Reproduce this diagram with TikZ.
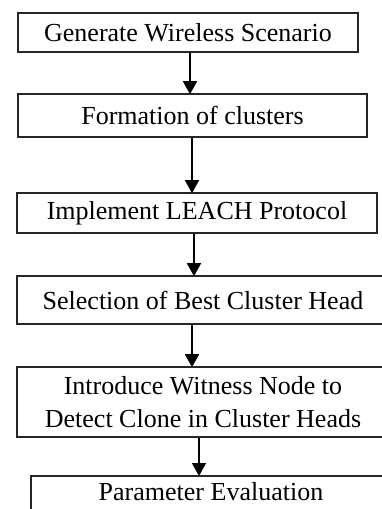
\documentclass[tikz,border=0pt]{standalone}
\usepackage{fontspec}
\setmainfont{Liberation Serif}
\usetikzlibrary{arrows.meta}
\begin{document}
\begin{tikzpicture}[x=1pt,y=-1pt,
  stepbox/.style={draw=black!85, line width=1.6pt, inner sep=0pt, align=center,
    font=\fontsize{26}{33}\selectfont},
  arr/.style={line width=1.6pt, draw=black, -{Triangle[length=13pt,width=14pt]}, shorten >=-1pt}]
\useasboundingbox (0,0) rectangle (382,509);
\clip (0,0) rectangle (382,509);
\fill[white] (0,0) rectangle (382,509);
\node[stepbox, minimum width=340pt, minimum height=39pt] (b1) at (188,32.5) {Generate Wireless Scenario};
\node[stepbox, minimum width=349pt, minimum height=43pt] (b2) at (192.5,115.5) {Formation of clusters};
\node[stepbox, minimum width=360pt, minimum height=40pt] (b3) at (197,213) {Implement LEACH Protocol};
\node[stepbox, minimum width=372pt, minimum height=48pt] (b4) at (203,300) {Selection of Best Cluster Head};
\node[stepbox, minimum width=372pt, minimum height=70pt] (b5) at (203,402) {Introduce Witness Node to\\Detect Clone in Cluster Heads};
\node[stepbox, minimum width=362pt, minimum height=46pt, anchor=north west] (b6) at (30,475) {};
\node[font=\fontsize{26}{33}\selectfont, anchor=base] (t6) at (211,500) {Parameter Evaluation};
\coordinate (x1) at (190,0);
\coordinate (x2) at (192,0);
\coordinate (x3) at (194,0);
\coordinate (x4) at (192,0);
\coordinate (x5) at (199,0);
\draw[arr] (b1.south -| x1) -- (b2.north -| x1);
\draw[arr] (b2.south -| x2) -- (b3.north -| x2);
\draw[arr] (b3.south -| x3) -- (b4.north -| x3);
\draw[arr] (b4.south -| x4) -- (b5.north -| x4);
\draw[arr] (b5.south -| x5) -- (b6.north -| x5);
\end{tikzpicture}
\end{document}
